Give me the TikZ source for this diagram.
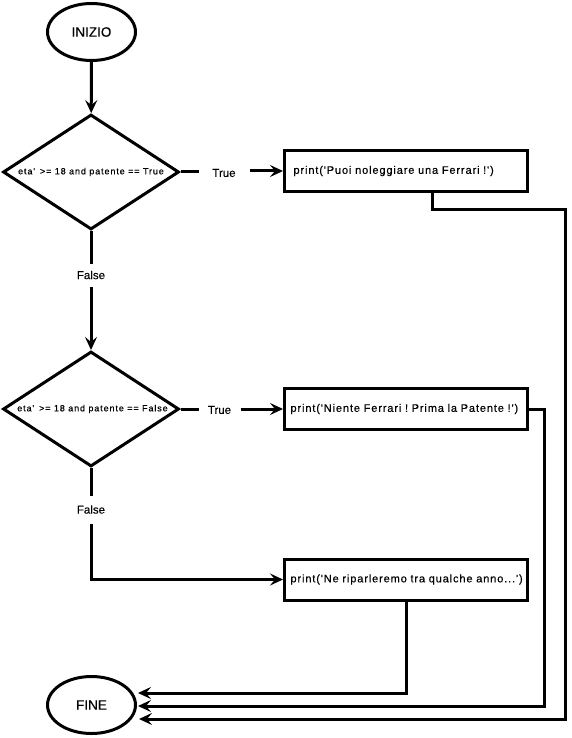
\documentclass[tikz,border=0pt]{standalone}
\usepackage{fontspec}
\setmainfont{Liberation Sans}
\newfontfamily\spacedfont[LetterSpace=8,FakeBold=0.3]{Liberation Sans}
\newfontfamily\widefont[LetterSpace=10,FakeBold=0.3]{Liberation Sans}
\newfontfamily\labelfont[FakeBold=0.3]{Liberation Sans}
\usetikzlibrary{shapes.geometric,arrows.meta,calc}
\frenchspacing
\begin{document}
\begin{tikzpicture}[x=1pt,y=-1pt,
  line width=3pt,
  terminal/.style={draw,ellipse,minimum width=88pt,minimum height=57pt,inner sep=0pt,font=\labelfont\fontsize{13.5}{16}\selectfont},
  decision/.style={draw,diamond,minimum width=176pt,minimum height=115pt,inner sep=0pt,aspect=1.53,font=\widefont\fontsize{9}{10}\selectfont},
  printbox/.style={draw,rectangle,minimum width=243pt,minimum height=41pt,text width=#1,align=left,font=\spacedfont\fontsize{11}{13}\selectfont\frenchspacing},
  edgelabel/.style={inner sep=0pt,font=\labelfont\fontsize{11.5}{13}\selectfont},
  arr/.style={-{Stealth[length=13pt,width=12pt,inset=5pt]}},
  ]
\useasboundingbox (0,0) rectangle (571,738);
\fill[white] (0,0) rectangle (571,738);

\node[terminal] (inizio) at (91.5,32) {INIZIO};
\node[decision] (d1) at (91,172) {eta'\, >= 18 and patente == True};
\node[decision] (d2) at (91,409) {\hspace*{3pt}eta'\, >= 18 and patente == False};
\node[printbox=225pt] (b1) at (406,171) {print('Puoi noleggiare una Ferrari !')};
\node[printbox=231pt] (b2) at (406,409) {print('Niente Ferrari ! Prima la Patente !')};
\node[printbox=231pt] (b3) at (406,579.5) {print('Ne riparleremo tra qualche anno...')};
\node[terminal] (fine) at (91.5,705) {FINE};

\node[edgelabel,minimum width=48pt,minimum height=12pt] (t1) at (224,173) {True};
\node[edgelabel,minimum width=39pt,minimum height=12pt] (t2) at (219.5,410) {True};
\node[edgelabel,minimum width=30pt,minimum height=20pt] (f1) at (91,275) {False};
\node[edgelabel,minimum width=30pt,minimum height=25pt] (f2) at (91,509.5) {False};

\coordinate (e1) at (138,693);
\coordinate (e2) at (138,706);
\coordinate (e3) at (139,719);
\coordinate (r1a) at (432,209);
\coordinate (r1b) at (565,719);
\coordinate (r2) at (544,706);

\draw[arr] (inizio) -- (d1);
\draw (d1.east) -- (t1.west |- d1.east);
\draw[arr] (t1.east |- b1.west) -- (b1.west);
\draw (d1.south) -- (f1.north);
\draw[arr] (f1.south) -- (d2.north);
\draw (d2.east) -- (t2.west |- d2.east);
\draw[arr] (t2.east |- b2.west) -- (b2.west);
\draw (d2.south) -- (f2.north);
\draw[arr] (f2.south) |- (b3.west);
\draw[arr] (b1.south -| r1a) -- (r1a) -| (r1b) -- (e3);
\draw[arr] (b2.east) -| (r2) -- (e2);
\draw[arr] (b3.south) |- (e1);
\end{tikzpicture}
\end{document}
